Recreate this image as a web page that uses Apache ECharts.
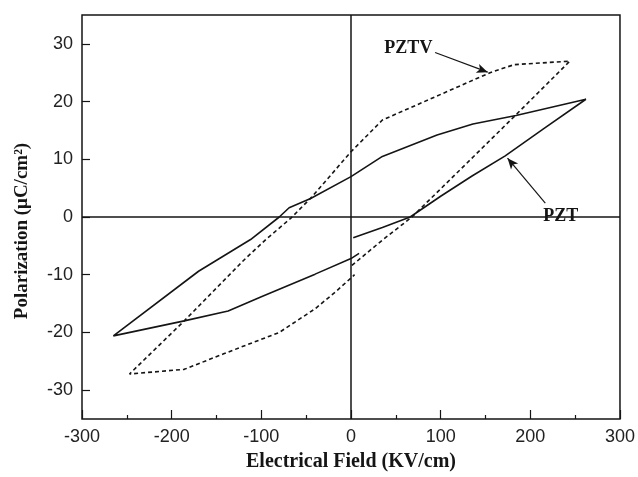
<!DOCTYPE html>
<html>
<head>
<meta charset="utf-8">
<script src="https://cdn.jsdelivr.net/npm/echarts@6/dist/echarts.min.js"></script>
<style>
    html, body { margin: 0; padding: 0; background: #fff; }
    #chart { width: 638px; height: 477px; }
</style>
</head>
<body>
<div id="chart"></div>
<script>
// PZT loop (solid), field in KV/cm, polarization in uC/cm2
var pztField = [2.5, 35, 66, 100, 135, 172, 215, 262, 184, 136, 96, 35, 0, -45, -69, -80, -112, -170, -265, -186, -137, -100, -80, -40, 0, 9];
var pztPol = [-3.6, -1.8, 0, 3.6, 7.1, 10.6, 15.3, 20.4, 17.6, 16.1, 14.2, 10.5, 7.0, 3.2, 1.6, 0, -3.9, -9.4, -20.6, -18.0, -16.3, -13.8, -12.5, -9.9, -7.2, -6.3];

// PZTV loop (dashed)
var pztvField = [1, 35, 68, 112, 182, 244, 182, 155, 35, 0, -43.5, -67, -95, -119, -186, -247, -186, -142, -80, -40, -16, 4];
var pztvPol = [-8.4, -4.0, 0, 6.7, 17.4, 27.0, 26.4, 25.0, 16.8, 11.3, 3.5, -0.2, -3.9, -7.4, -18.0, -27.2, -26.4, -23.7, -20.0, -15.9, -12.8, -10.0];

var yTickValues = [-30, -20, -10, 0, 10, 20, 30];

// annotation arrows [fromE, fromP, toE, toP] and text anchors
var pztvArrow = [93.8, 28.5, 152.5, 25.1];
var pztArrow = [216.7, 2.4, 174.6, 10.2];
var pztvLabelAt = [64, 29.3];
var pztLabelAt = [234, 0.1];

var zip = function (xs, ys) {
    var out = [];
    for (var i = 0; i < xs.length; i++) {
        out.push([xs[i], ys[i]]);
    }
    return out;
};

var ink = '#151515';
var serif = 'Liberation Serif';
var sans = 'Liberation Sans';

var arrowLine = function (a) {
    return [{ coord: [a[0], a[1]] }, { coord: [a[2], a[3]] }];
};

var textPoint = function (p, text) {
    return {
        coord: p,
        symbol: 'circle',
        symbolSize: 0,
        label: {
            show: true,
            position: 'inside',
            formatter: text,
            fontFamily: serif,
            fontWeight: 'bold',
            fontSize: 18,
            color: ink
        }
    };
};

var myChart = echarts.init(document.getElementById('chart'));

var option = {
    animation: false,
    backgroundColor: '#fff',
    grid: {
        left: 82,
        right: 11,
        top: 15,
        bottom: 57,
        show: true,
        borderColor: ink,
        borderWidth: 1.5
    },
    xAxis: {
        type: 'value',
        min: -300,
        max: 300,
        interval: 100,
        name: 'Electrical Field (KV/cm)',
        nameLocation: 'middle',
        nameGap: 33,
        nameTextStyle: { fontFamily: serif, fontWeight: 'bold', fontSize: 20, color: ink },
        axisLine: { show: false, onZero: false },
        axisTick: { show: true, inside: true, length: 9, lineStyle: { color: ink, width: 1.2 } },
        minorTick: { show: true, splitNumber: 2, length: 4, lineStyle: { color: ink, width: 1.2 } },
        splitLine: { show: false },
        axisLabel: { fontFamily: sans, fontSize: 18, color: '#222', margin: 9 }
    },
    yAxis: {
        type: 'value',
        min: -35,
        max: 35,
        name: 'Polarization (\u03bcC/cm\u00b2)',
        nameLocation: 'middle',
        nameGap: 50,
        nameTextStyle: { fontFamily: serif, fontWeight: 'bold', fontSize: 19, color: ink, padding: [0, 28, 0, 0] },
        axisLine: { show: false, onZero: false },
        axisTick: { show: true, inside: true, length: 8, customValues: yTickValues, lineStyle: { color: ink, width: 1.2 } },
        splitLine: { show: false },
        axisLabel: { fontFamily: sans, fontSize: 18, color: '#222', margin: 9, customValues: yTickValues }
    },
    series: [
        {
            name: 'PZT',
            type: 'line',
            data: zip(pztField, pztPol),
            showSymbol: false,
            lineStyle: { color: ink, width: 1.6, type: 'solid' },
            z: 3,
            markLine: {
                silent: true,
                symbol: 'none',
                label: { show: false },
                lineStyle: { color: ink, width: 1.5, type: 'solid' },
                data: [{ xAxis: 0 }, { yAxis: 0 }]
            }
        },
        {
            name: 'PZTV',
            type: 'line',
            data: zip(pztvField, pztvPol),
            showSymbol: false,
            lineStyle: { color: ink, width: 1.6, type: [4, 3] },
            z: 3
        },
        {
            // arrows and labels
            name: 'notes',
            type: 'line',
            data: [],
            markLine: {
                silent: true,
                symbol: ['none', 'arrow'],
                symbolSize: [7, 11],
                label: { show: false },
                lineStyle: { color: ink, width: 1.2, type: 'solid' },
                data: [arrowLine(pztvArrow), arrowLine(pztArrow)]
            },
            markPoint: {
                silent: true,
                data: [textPoint(pztvLabelAt, 'PZTV'), textPoint(pztLabelAt, 'PZT')]
            },
            z: 5
        }
    ]
};

myChart.setOption(option);
</script>
</body>
</html>
